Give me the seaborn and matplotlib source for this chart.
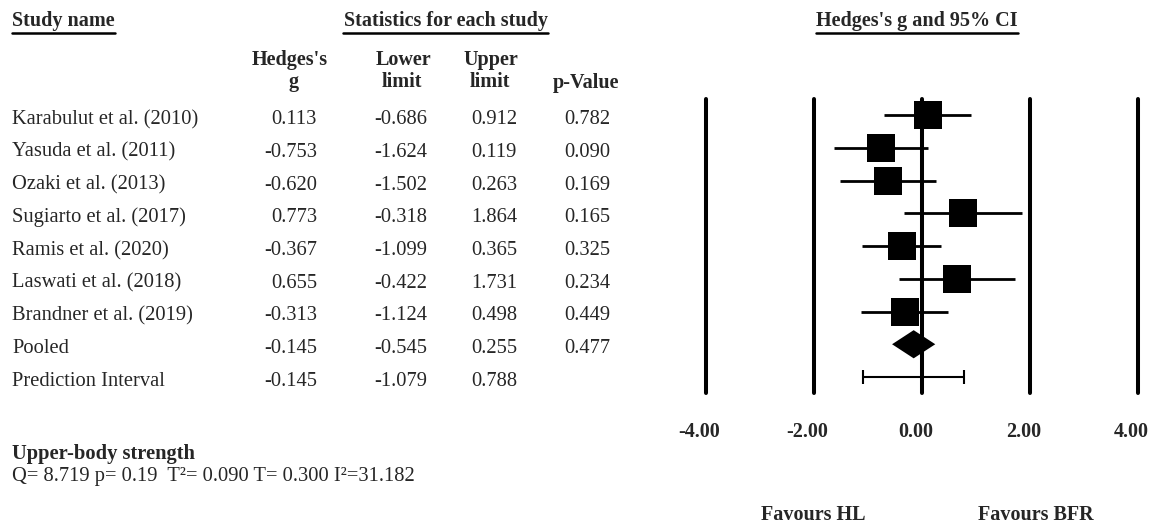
import matplotlib
matplotlib.use("Agg")
import matplotlib.pyplot as plt
import matplotlib.transforms as mtransforms
from matplotlib.lines import Line2D
import pandas as pd
import seaborn as sns

# ---- data -------------------------------------------------------------
studies = [
    "Karabulut et al. (2010)",
    "Yasuda et al. (2011)",
    "Ozaki et al. (2013)",
    "Sugiarto et al. (2017)",
    "Ramis et al. (2020)",
    "Laswati et al. (2018)",
    "Brandner et al. (2019)",
]
hedges_g = [0.113, -0.753, -0.620, 0.773, -0.367, 0.655, -0.313]
lower_limit = [-0.686, -1.624, -1.502, -0.318, -1.099, -0.422, -1.124]
upper_limit = [0.912, 0.119, 0.263, 1.864, 0.365, 1.731, 0.498]
p_values = [0.782, 0.090, 0.169, 0.165, 0.325, 0.234, 0.449]

pooled_label = "Pooled"
pooled_g, pooled_lower, pooled_upper, pooled_p = -0.145, -0.545, 0.255, 0.477

pi_label = "Prediction Interval"
pi_g, pi_lower, pi_upper = -0.145, -1.079, 0.788

x_ticks = [-4, -2, 0, 2, 4]
x_tick_labels = ["-4.00", "-2.00", "0.00", "2.00", "4.00"]

outcome_name = "Upper-body strength"
heterogeneity = "Q= 8.719 p= 0.19  T\u00b2= 0.090 T= 0.300 I\u00b2=31.182"

# ---- figure -----------------------------------------------------------
W, H, DPI = 1153, 524, 100
sns.set_theme(style="white")
plt.rcParams["font.family"] = ["Liberation Serif", "DejaVu Serif"]
FS = 14.5      # bold headings
FS_R = 14.8    # regular table text

fig = plt.figure(figsize=(W / DPI, H / DPI), dpi=DPI)
fig.patch.set_facecolor("white")

# forest panel: zero at x=921.5 px, 54 px per unit; rows every 32.75 px
ax_left, ax_right = 705.5, 1137.5
row0, row_step = 115.0, 32.75
ax_top, ax_bot = 98.5, 393.0
ax = fig.add_axes([ax_left / W, 1 - ax_bot / H,
                   (ax_right - ax_left) / W, (ax_bot - ax_top) / H])
ax.set_xlim(-4, 4)
ax.set_ylim((ax_bot - row0) / row_step, (ax_top - row0) / row_step)
ax.axis("off")

n = len(studies)
study_rows = list(range(n))
pooled_row = n
pi_row = n + 1

df = pd.DataFrame({"study": studies, "g": hedges_g, "lo": lower_limit,
                   "hi": upper_limit, "p": p_values, "row": study_rows})

for t in x_ticks:
    ax.axvline(t, ymin=0, ymax=1, color="black", lw=2.9, zorder=1,
               clip_on=False)

ax.hlines(df["row"], df["lo"], df["hi"], color="black", lw=2.0, zorder=2)
sns.scatterplot(data=df, x="g", y="row", marker="s", s=390, color="black",
                edgecolor="black", linewidth=0, legend=False, ax=ax, zorder=3)

# pooled diamond
dh = 0.43
ax.fill([pooled_lower, pooled_g, pooled_upper, pooled_g],
        [pooled_row, pooled_row - dh, pooled_row, pooled_row + dh],
        color="black", zorder=3, lw=0)

# prediction interval
ax.errorbar(pi_g, pi_row, xerr=[[pi_g - pi_lower], [pi_upper - pi_g]],
            fmt="none", ecolor="black", elinewidth=1.5, capsize=4.7,
            capthick=1.5, zorder=3)

# axis labels under the panel
px = fig.dpi_scale_trans
tick_tr = mtransforms.blended_transform_factory(ax.transData, fig.transFigure)
for t, lab in zip(x_ticks, x_tick_labels):
    ax.text(t, 1 - 437 / H, lab, ha="center", va="baseline", fontsize=FS,
            fontweight="bold",
            transform=tick_tr + mtransforms.ScaledTranslation(-6 / DPI, 0, px))

fig.text(813 / W, 1 - 520 / H, "Favours HL", ha="center", va="baseline",
         fontsize=FS, fontweight="bold")
fig.text(1036 / W, 1 - 520 / H, "Favours BFR", ha="center", va="baseline",
         fontsize=FS, fontweight="bold")

# ---- table on the left --------------------------------------------------
row_tr = mtransforms.blended_transform_factory(fig.transFigure, ax.transData) \
    + mtransforms.ScaledTranslation(0, -9 / DPI, px)


def row_text(x, row, s, ha="left", **kw):
    fig.text(x / W, row, s, ha=ha, va="baseline", fontsize=FS_R,
             transform=row_tr, **kw)


col_right = {"g": 317, "lo": 427, "hi": 517, "p": 610}
for _, r in df.iterrows():
    row_text(12, r["row"], r["study"])
    row_text(col_right["g"], r["row"], f"{r['g']:.3f}", ha="right")
    row_text(col_right["lo"], r["row"], f"{r['lo']:.3f}", ha="right")
    row_text(col_right["hi"], r["row"], f"{r['hi']:.3f}", ha="right")
    row_text(col_right["p"], r["row"], f"{r['p']:.3f}", ha="right")

row_text(12, pooled_row, pooled_label)
row_text(col_right["g"], pooled_row, f"{pooled_g:.3f}", ha="right")
row_text(col_right["lo"], pooled_row, f"{pooled_lower:.3f}", ha="right")
row_text(col_right["hi"], pooled_row, f"{pooled_upper:.3f}", ha="right")
row_text(col_right["p"], pooled_row, f"{pooled_p:.3f}", ha="right")

row_text(12, pi_row, pi_label)
row_text(col_right["g"], pi_row, f"{pi_g:.3f}", ha="right")
row_text(col_right["lo"], pi_row, f"{pi_lower:.3f}", ha="right")
row_text(col_right["hi"], pi_row, f"{pi_upper:.3f}", ha="right")


def ftext(x, y, s, ha="left", size=FS, **kw):
    return fig.text(x / W, 1 - y / H, s, ha=ha, va="baseline", fontsize=size,
                    **kw)


# section headers (underlined)
headers = [
    ftext(12, 26, "Study name", fontweight="bold"),
    ftext(445.5, 26, "Statistics for each study", ha="center",
          fontweight="bold"),
    ftext(917, 26, "Hedges's g and 95% CI", ha="center", fontweight="bold"),
]

# column headers
ftext(290, 65, "Hedges's", ha="center", fontweight="bold")
ftext(294, 87, "g", ha="center", fontweight="bold")
ftext(403, 65, "Lower", ha="center", fontweight="bold")
ftext(402, 87, "limit", ha="center", fontweight="bold")
ftext(491, 65, "Upper", ha="center", fontweight="bold")
ftext(490, 87, "limit", ha="center", fontweight="bold")
ftext(586, 88, "p-Value", ha="center", fontweight="bold")

# summary block
ftext(12, 459, outcome_name, fontweight="bold", size=14.8)
ftext(12, 481, heterogeneity, size=FS_R)

fig.canvas.draw()
renderer = fig.canvas.get_renderer()
for t in headers:
    bb = t.get_window_extent(renderer)
    y = 1 - 33 / H
    fig.add_artist(Line2D([bb.x0 / W, bb.x1 / W], [y, y],
                          transform=fig.transFigure, color="black", lw=1.8))

fig.savefig("out.png", dpi=DPI, facecolor="white")
